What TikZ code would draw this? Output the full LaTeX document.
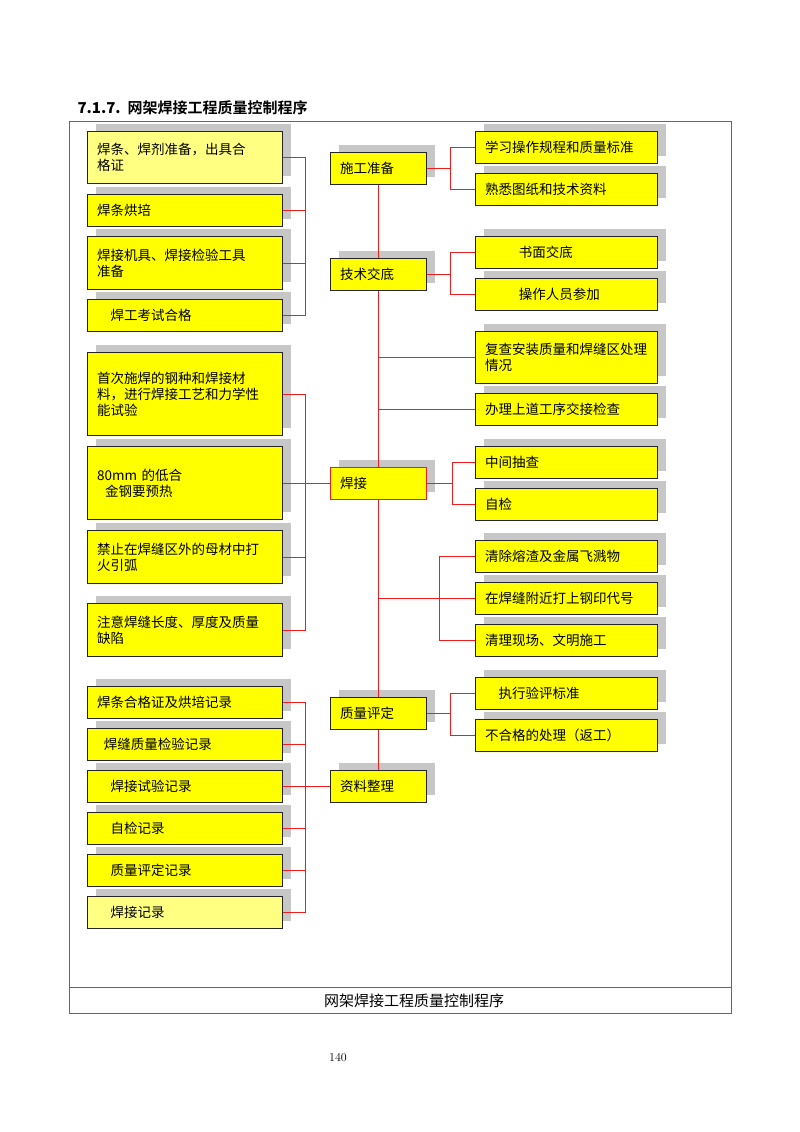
\documentclass[tikz,border=0pt]{standalone}
\usepackage{fontspec}
\newfontfamily\cjk{Noto Sans CJK SC}
\newfontfamily\cjkb{Noto Sans CJK SC Bold}
\usetikzlibrary{shadows}
\definecolor{ylw}{RGB}{255,255,0}
\definecolor{lylw}{RGB}{255,255,130}
\definecolor{lnred}{RGB}{240,30,30}
\tikzset{
 bx/.style={draw=black!85,line width=1.1pt,fill=ylw,inner xsep=9pt,inner ysep=0pt,anchor=north west,align=left,
   font=\cjk\fontsize{13.5}{16}\selectfont,
   drop shadow={shadow xshift=8pt,shadow yshift=8pt,fill=black!22,opacity=1}},
 con/.style={draw=lnred,line width=0.9pt}
}
\newcommand\mybox[7][]{\pgfmathsetmacro\tw{#5-19.1}%
 \node[bx,#1,minimum width=#5pt,minimum height=#6pt,text width=\tw pt] (#2) at (#3,#4) {#7};}
\begin{document}
\begin{tikzpicture}[x=1pt,y=-1pt]
\useasboundingbox[fill=white] (0,0) rectangle (800,1132);
\node[anchor=west,font=\cjkb\fontsize{15}{16}\selectfont] (title) at (74,108) {\textbf{7.1.7.}\ \ 网架焊接工程质量控制程序};
\draw[black!60,line width=0.8pt] (69,121) rectangle (731,1013);
\draw[black!60,line width=0.8pt] (69,987) -- (731,987);
\node[font=\cjk\fontsize{15}{16}\selectfont] (cap) at (414,1001) {网架焊接工程质量控制程序};
\node[font=\fontsize{12}{13}\selectfont] (pg) at (338,1058) {140};
% left top
\mybox[fill=lylw]{l1}{87}{131}{195}{52}{焊条、焊剂准备，出具合\\格证}
\mybox{l2}{87}{194}{195}{32}{焊条烘培}
\mybox{l3}{87}{236}{195}{53}{焊接机具、焊接检验工具\\准备}
\mybox{l4}{87}{299}{195}{32}{\hspace{1em}焊工考试合格}
% left middle
\mybox{m1}{87}{352}{195}{83}{首次施焊的钢种和焊接材\\料，进行焊接工艺和力学性\\能试验\\[16pt]}
\mybox{m2}{87}{446}{195}{73}{80mm 的低合\\\hspace{0.6em}金钢要预热\\[26pt]}
\mybox{m3}{87}{530}{195}{53}{禁止在焊缝区外的母材中打\\火引弧}
\mybox{m4}{87}{603}{195}{53}{注意焊缝长度、厚度及质量\\缺陷}
% left bottom
\mybox{b1}{87}{686}{195}{32}{焊条合格证及烘培记录}
\mybox{b2}{87}{728}{195}{32}{\hspace{0.5em}焊缝质量检验记录}
\mybox{b3}{87}{770}{195}{32}{\hspace{1em}焊接试验记录}
\mybox{b4}{87}{812}{195}{32}{\hspace{1em}自检记录}
\mybox{b5}{87}{854}{195}{32}{\hspace{1em}质量评定记录}
\mybox[fill=lylw]{b6}{87}{896}{195}{32}{\hspace{1em}焊接记录}
% center
\mybox{c1}{330}{152}{96}{32}{施工准备}
\mybox{c2}{330}{258}{96}{32}{技术交底}
\mybox[draw=lnred]{c3}{330}{467}{96}{32}{焊接}
\mybox{c4}{330}{697}{96}{32}{质量评定}
\mybox{c5}{330}{770}{96}{32}{资料整理}
% right
\mybox{r1}{475}{131}{182}{32}{学习操作规程和质量标准}
\mybox{r2}{475}{173}{182}{32}{熟悉图纸和技术资料}
\mybox{r3}{475}{236}{182}{32}{\hspace{2.5em}书面交底}
\mybox{r4}{475}{278}{182}{32}{\hspace{2.5em}操作人员参加}
\mybox{r5}{475}{331}{182}{52}{复查安装质量和焊缝区处理\\情况}
\mybox{r6}{475}{393}{182}{32}{办理上道工序交接检查}
\mybox{r7}{475}{446}{182}{32}{中间抽查}
\mybox{r8}{475}{488}{182}{32}{自检}
\mybox{r9}{475}{540}{182}{32}{清除熔渣及金属飞溅物}
\mybox{r10}{475}{582}{182}{32}{在焊缝附近打上钢印代号}
\mybox{r11}{475}{624}{182}{32}{清理现场、文明施工}
\mybox{r12}{475}{677}{182}{32}{\hspace{1em}执行验评标准}
\mybox{r13}{475}{719}{182}{32}{不合格的处理（返工）}
% bracket coordinates
\coordinate (lx) at (305,0);
\coordinate (rx) at (450,0);
\coordinate (rx2) at (452,0);
\coordinate (rx3) at (439,0);
% left top bracket
\draw[con] (l1.east) -- (l1.east -| lx) -- (l4.east -| lx) -- (l4.east);
\draw[con] (l2.east) -- (l2.east -| lx);
\draw[con] (l3.east) -- (l3.east -| lx);
% left middle bracket
\draw[con] (m1.east) -- (m1.east -| lx) -- (m4.east -| lx) -- (m4.east);
\draw[con] (m2.east) -- (m2.east -| lx);
\draw[con] (m3.east) -- (m3.east -| lx);
\draw[con] (c3.west) -- (c3.west -| lx);
% left bottom bracket
\draw[con] (b1.east) -- (b1.east -| lx) -- (b6.east -| lx) -- (b6.east);
\foreach \n in {b2,b3,b4,b5} \draw[con] (\n.east) -- (\n.east -| lx);
\draw[con] (c5.west) -- (c5.west -| lx);
% center spine
\draw[con] (c1.south) -- (c2.north);
\draw[con] (c2.south) -- (c3.north);
\draw[con] (c3.south) -- (c4.north);
\draw[con] (c4.south) -- (c5.north);
% right brackets
\draw[con] (r1.west) -- (r1.west -| rx) -- (r2.west -| rx) -- (r2.west);
\draw[con] (c1.east) -- (c1.east -| rx);
\draw[con] (r3.west) -- (r3.west -| rx) -- (r4.west -| rx) -- (r4.west);
\draw[con] (c2.east) -- (c2.east -| rx);
\draw[con] (r5.west) -- (r5.west -| c1.south);
\draw[con] (r6.west) -- (r6.west -| c1.south);
\draw[con] (r7.west) -- (r7.west -| rx2) -- (r8.west -| rx2) -- (r8.west);
\draw[con] (c3.east) -- (c3.east -| rx2);
\draw[con] (r9.west) -- (r9.west -| rx3) -- (r11.west -| rx3) -- (r11.west);
\draw[con] (r10.west) -- (r10.west -| c1.south);
\draw[con] (r12.west) -- (r12.west -| rx) -- (r13.west -| rx) -- (r13.west);
\draw[con] (c4.east) -- (c4.east -| rx);
\end{tikzpicture}
\end{document}
